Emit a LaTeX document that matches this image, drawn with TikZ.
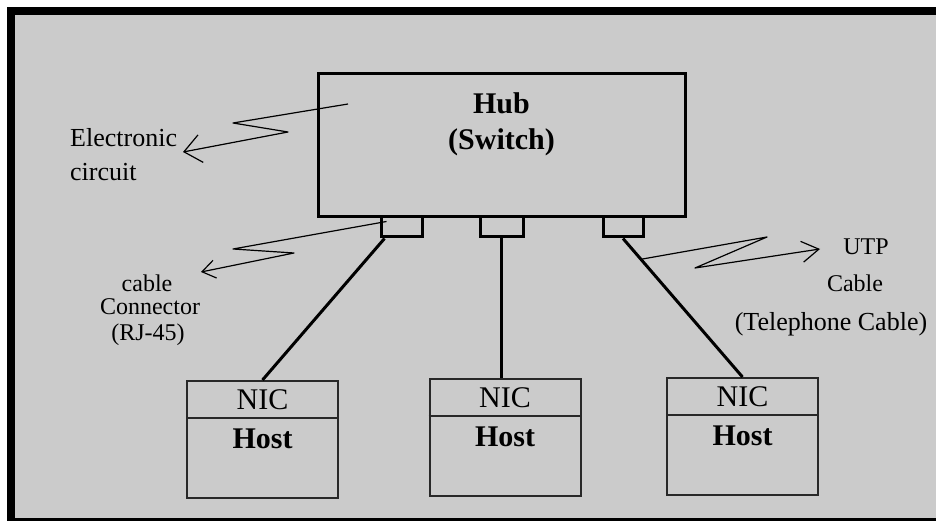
\documentclass[tikz,border=0pt]{standalone}
\usepackage{fontspec}
\setmainfont{Liberation Serif}
\usetikzlibrary{arrows.meta,calc}
\definecolor{bg}{RGB}{203,203,203}
\definecolor{boxline}{RGB}{40,40,40}
\begin{document}
\begin{tikzpicture}[x=1bp,y=-1bp,
  hubbox/.style={draw=black,line width=3bp,inner sep=0pt,minimum width=367bp,minimum height=143bp},
  portbox/.style={draw=black,line width=3bp,inner sep=0pt,minimum width=41bp,minimum height=20bp},
  hostbox/.style={draw=boxline,line width=2bp,inner sep=0pt,minimum width=151bp,minimum height=117bp},
  divider/.style={draw=boxline,line width=2bp},
  cable/.style={line width=3bp},
  bolt/.style={line width=1.2bp,line join=round},
  lbl/.style={inner sep=0pt,font=\fontsize{24bp}{28bp}\selectfont},
  biglbl/.style={inner sep=0pt,font=\fontsize{26bp}{30bp}\selectfont},
  boxtxt/.style={inner sep=0pt,font=\fontsize{30bp}{36bp}\selectfont},
  boldtxt/.style={inner sep=0pt,font=\fontsize{30bp}{36bp}\selectfont\bfseries},
]
% canvas and frame
\useasboundingbox (0,0) rectangle (936,521);
\fill[white] (0,0) rectangle (936,521);
\fill[black] (7,7) rectangle (936,521);
\fill[bg] (15,15) rectangle (936,518);

% hub
\node[hubbox] (hub) at (501.5,145.5) {};
\node[boldtxt,anchor=base] (hubt1) at ($(hub.north)+(0,41)$) {Hub};
\node[boldtxt,anchor=base] (hubt2) at ($(hub.north)+(0,77)$) {(Switch)};

% ports
\node[portbox] (c1) at (401.5,227) {};
\node[portbox,minimum width=43bp] (c2) at (501.5,227) {};
\node[portbox,minimum width=40bp] (c3) at (623,227) {};

% hosts
\foreach \n/\x/\y in {1/262.5/439.5, 2/505/437.5, 3/742.5/436.5}{
  \node[hostbox] (host\n) at (\x,\y) {};
  \draw[divider] ($(host\n.north west)+(0,38)$) -- ($(host\n.north east)+(0,38)$);
  \node[boxtxt,anchor=base] (nic\n) at ($(host\n.north)+(0,29)$) {NIC};
  \node[boldtxt,anchor=base] (hostt\n) at ($(host\n.north)+(0,68)$) {Host};
}

% cables
\draw[cable] ([xshift=5bp]c1.south west) -- (host1.north);
\draw[cable] (c2.south) -- (c2.south |- host2.north);
\draw[cable] (c3.south) -- (host3.north);

% labels
\node[biglbl,anchor=base west] (elec1) at (70,147) {Electronic};
\node[biglbl,anchor=base west] (elec2) at (70,181) {circuit};
\node[lbl,anchor=base] (conn1) at (147,292) {cable};
\node[lbl,anchor=base] (conn2) at (150,315) {Connector};
\node[lbl,anchor=base] (conn3) at (148,341) {(RJ-45)};
\node[lbl,anchor=base] (utp1) at (866,255) {UTP};
\node[lbl,anchor=base] (utp2) at (855,292) {Cable};
\node[biglbl,anchor=base] (utp3) at (831,331) {(Telephone Cable)};

% lightning arrows
\coordinate (e0) at (348,104);
\coordinate (e1) at (233,123);
\coordinate (e2) at (288,132);
\coordinate (e3) at (183,152);
\draw[bolt,-{Straight Barb[length=17bp,width=28bp]}] (e0) -- (e1) -- (e2) -- (e3);

\coordinate (k0) at ($(c1.north west)+(7,6)$);
\coordinate (k1) at (233,249);
\coordinate (k2) at (294,253);
\coordinate (k3) at (201,272);
\draw[bolt,-{Straight Barb[length=13bp,width=18bp]}] (k0) -- (k1) -- (k2) -- (k3);

\coordinate (u0) at ($(c3.south)!0.15!(host3.north)$);
\coordinate (u1) at (767,237);
\coordinate (u2) at (695,268);
\coordinate (u3) at (820,249);
\draw[bolt,-{Straight Barb[length=17bp,width=21bp]}] (u0) -- (u1) -- (u2) -- (u3);
\end{tikzpicture}
\end{document}
